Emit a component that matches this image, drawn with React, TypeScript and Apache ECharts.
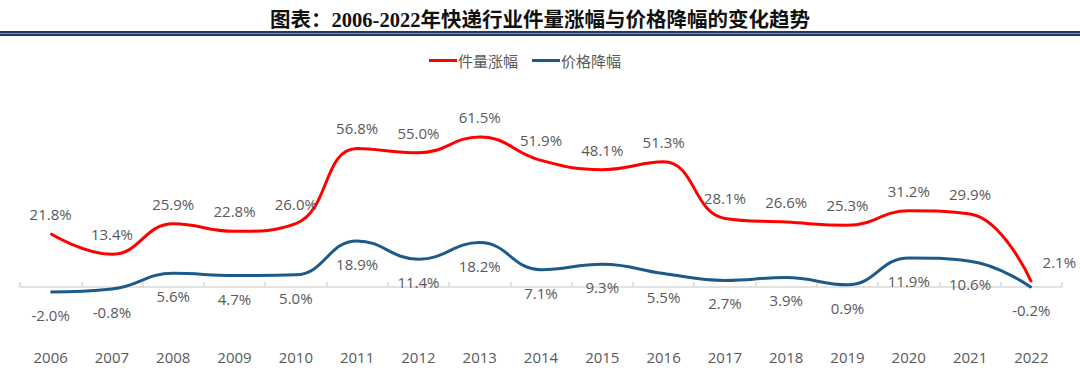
import React, { useEffect, useRef } from "react";
import * as echarts from "echarts";

const years = ["2006","2007","2008","2009","2010","2011","2012","2013","2014","2015","2016","2017","2018","2019","2020","2021","2022"];
const volumeGrowth = [21.8, 13.4, 25.9, 22.8, 26.0, 56.8, 55.0, 61.5, 51.9, 48.1, 51.3, 28.1, 26.6, 25.3, 31.2, 29.9, 2.1];
const priceDecline = [-2.0, -0.8, 5.6, 4.7, 5.0, 18.9, 11.4, 18.2, 7.1, 9.3, 5.5, 2.7, 3.9, 0.9, 11.9, 10.6, -0.2];
const seriesNames = ["件量涨幅", "价格降幅"];
const titleText = "图表：2006-2022年快递行业件量涨幅与价格降幅的变化趋势";

// manual label nudges (x offsets in px) as in the source picture
const volumeLabelShift: Record<number, number> = { 16: 28 };

const LABEL_FONT = '"Open Sans", "Noto Sans", sans-serif';

export default function App() {
  const ref = useRef<HTMLDivElement>(null);
  useEffect(() => {
    if (!ref.current) return;
    const chart = echarts.init(ref.current, undefined, { renderer: "svg" });
    const fmt = (p: any) => `${Number(p.value).toFixed(1)}%`;
    chart.setOption({
      animation: false,
      backgroundColor: "#ffffff",
      title: {
        text: titleText,
        left: "center",
        top: 5,
        textStyle: {
          fontFamily: '"Liberation Serif", "Noto Sans CJK SC", serif',
          fontWeight: "bold",
          fontSize: 20.5,
          color: "#111111",
        },
      },
      graphic: [
        { type: "rect", shape: { x: 0, y: 31, width: 1080, height: 5 }, style: { fill: "#1F3864" } },
        { type: "rect", shape: { x: 0, y: 33, width: 1080, height: 1 }, style: { fill: "#7F93BF" } },
      ],
      legend: {
        data: seriesNames,
        left: 424,
        top: 48,
        icon: "rect",
        itemWidth: 28,
        itemHeight: 3,
        itemGap: 14,
        textStyle: {
          fontFamily: '"Noto Sans CJK SC", sans-serif',
          fontSize: 15,
          color: "#595959",
          padding: [0, 0, 0, -4],
        },
      },
      grid: { left: 20, right: 18, top: 116.2, height: 195.2 },
      xAxis: {
        type: "category",
        data: years,
        boundaryGap: true,
        axisLine: { onZero: true, lineStyle: { color: "#D9D9D9", width: 1.5 } },
        axisTick: { show: true, inside: true, length: 5, lineStyle: { color: "#D9D9D9", width: 1.5 } },
        axisLabel: { margin: 38, color: "#595959", fontSize: 15, fontFamily: LABEL_FONT },
      },
      yAxis: {
        type: "value",
        min: -10,
        max: 70,
        show: false,
        splitLine: { show: false },
      },
      series: [
        {
          name: seriesNames[0],
          type: "line",
          smooth: 0.45,
          symbol: "circle",
          symbolSize: 1,
          lineStyle: { color: "#FF0000", width: 3 },
          itemStyle: { color: "#FF0000" },
          label: {
            show: true,
            position: "top",
            distance: 12,
            formatter: fmt,
            color: "#595959",
            fontSize: 15,
            fontFamily: LABEL_FONT,
          },
          data: volumeGrowth.map((v, i) =>
            volumeLabelShift[i] !== undefined
              ? { value: v, label: { offset: [volumeLabelShift[i], 0] } }
              : v
          ),
        },
        {
          name: seriesNames[1],
          type: "line",
          smooth: 0.45,
          symbol: "circle",
          symbolSize: 1,
          lineStyle: { color: "#1C5A8A", width: 3 },
          itemStyle: { color: "#1C5A8A" },
          label: {
            show: true,
            position: "bottom",
            distance: 15,
            formatter: fmt,
            color: "#595959",
            fontSize: 15,
            fontFamily: LABEL_FONT,
          },
          data: priceDecline,
        },
      ],
    });
    return () => chart.dispose();
  }, []);
  return (
    <div
      ref={ref}
      style={{ position: "fixed", left: 0, top: 0, width: 1080, height: 388, background: "#fff" }}
    />
  );
}
